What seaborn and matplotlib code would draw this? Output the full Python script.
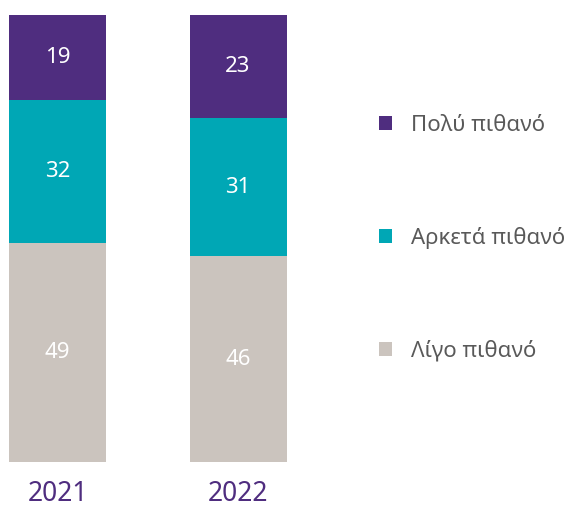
import pandas as pd
import seaborn as sns
import matplotlib.pyplot as plt
from matplotlib.patches import Patch

years = ["2021", "2022"]
poly = [19, 23]       # Πολύ πιθανό
arketa = [32, 31]     # Αρκετά πιθανό
ligo = [49, 46]       # Λίγο πιθανό
labels = ["Πολύ πιθανό", "Αρκετά πιθανό", "Λίγο πιθανό"]
colors = ["#4F2D7F", "#00A7B5", "#CBC4BE"]

sns.set_theme(style="white")
plt.rcParams['font.family'] = ['Noto Sans', 'DejaVu Sans']

df = pd.DataFrame({"year": years, "poly": poly, "arketa": arketa, "ligo": ligo})
df["c_ligo"] = df["ligo"]
df["c_arketa"] = df["ligo"] + df["arketa"]
df["c_poly"] = df["c_arketa"] + df["poly"]

fig = plt.figure(figsize=(5.83, 5.07), dpi=100)
ax = fig.add_axes([0, 45 / 507, 1, 447 / 507])

w = 97 / 180.5
for col, c in zip(["c_poly", "c_arketa", "c_ligo"], colors):
    sns.barplot(data=df, x="year", y=col, color=c, width=w, saturation=1,
                linewidth=0, ax=ax)

# value labels at segment centres
for i in range(len(years)):
    segs = [(ligo[i], 0), (arketa[i], ligo[i]), (poly[i], ligo[i] + arketa[i])]
    for v, b in segs:
        ax.text(i, b + v / 2, str(v), ha="center", va="center",
                color="white", fontsize=16)
    ax.text(i, -7.2, years[i], ha="center", va="center", color="#4F2D7F",
            fontsize=19, clip_on=False)

ax.set_xlim(-57.5 / 180.5, (583 - 57.5) / 180.5)
ax.set_ylim(0, 100)
ax.axis("off")

handles = [Patch(facecolor=c, edgecolor="none") for c in colors]
leg = fig.legend(handles, labels, loc="upper left",
                 bbox_to_anchor=(359 / 583, 1 - 95 / 507), frameon=False,
                 fontsize=16, labelcolor="#595959", handlelength=0.6,
                 handleheight=0.6, handletextpad=0.85, labelspacing=4.1)

fig.savefig("out.png", dpi=100)
